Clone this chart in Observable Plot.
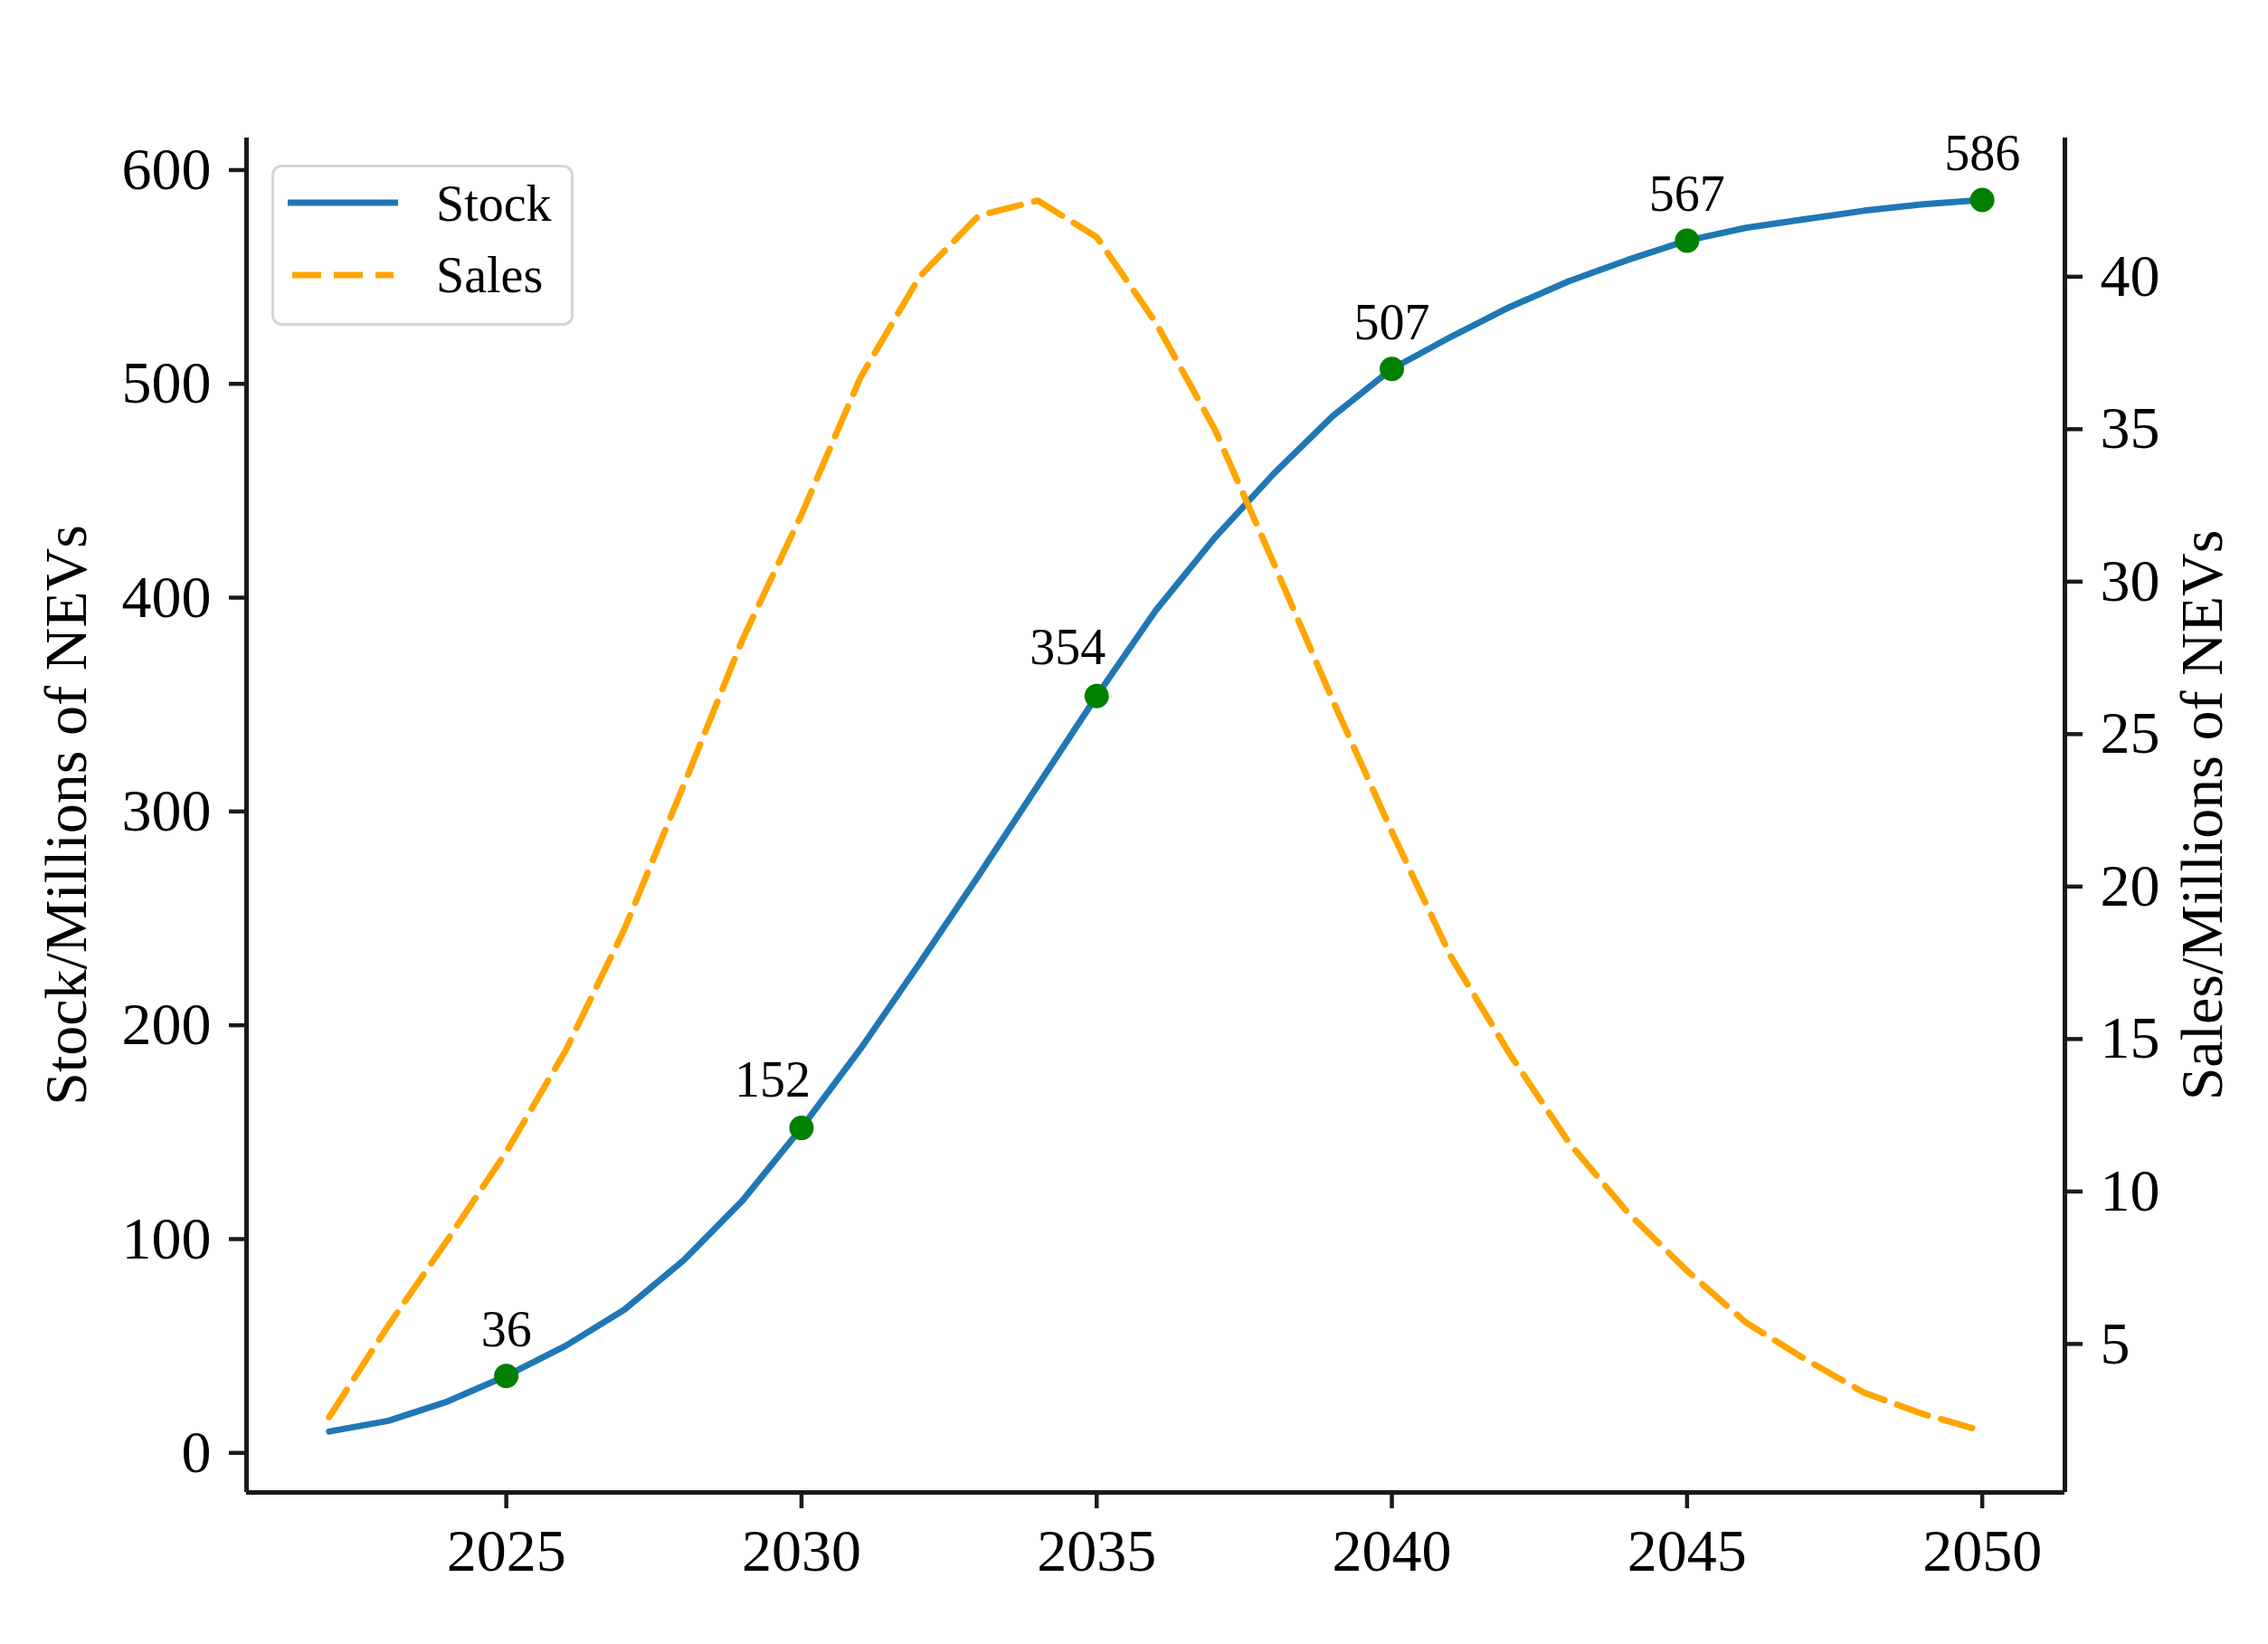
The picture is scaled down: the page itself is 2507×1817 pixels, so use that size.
<!DOCTYPE html>
<html>
<head>
<meta charset="utf-8">
<script src="https://cdn.jsdelivr.net/npm/d3@7"></script>
<script src="https://cdn.jsdelivr.net/npm/@observablehq/plot@0.6"></script>
<style>
  html, body { margin: 0; padding: 0; background: #fff; }
  #wrap { position: relative; width: 2507px; height: 1817px; }
  #legend { position: absolute; left: 300px; top: 182px; }
</style>
</head>
<body>
<div id="wrap"></div>
<script>
// ---- data ----
const years = [2022, 2023, 2024, 2025, 2026, 2027, 2028, 2029, 2030, 2031, 2032, 2033, 2034, 2035, 2036,
               2037, 2038, 2039, 2040, 2041, 2042, 2043, 2044, 2045, 2046, 2047, 2048, 2049, 2050];
const stock = [10, 15, 24, 36, 50, 67, 90, 118, 152, 189, 229, 270, 312, 354, 394,
               428, 458, 485, 507, 522, 536, 548, 558, 567, 573, 577, 581, 584, 586];
const sales = [2.6, 5.6, 8.4, 11.3, 14.6, 18.6, 23.3, 28.1, 32.2, 36.7, 40.0, 42.0, 42.5, 41.3, 38.5,
               35.0, 30.6, 26.1, 21.8, 17.7, 14.5, 11.6, 9.3, 7.4, 5.7, 4.5, 3.4, 2.7, 2.15];
const labelYears = [2025, 2030, 2035, 2040, 2045, 2050];
const leftShiftedLabelYears = [2030, 2035];   // labels nudged left of their point
const yearTicks = [2025, 2030, 2035, 2040, 2045, 2050];
const stockTicks = [0, 100, 200, 300, 400, 500, 600];
const salesTicks = [5, 10, 15, 20, 25, 30, 35, 40];
const seriesNames = ["Stock", "Sales"];
const leftLabel = "Stock/Millions of NEVs";
const rightLabel = "Sales/Millions of NEVs";

// axis limits (matplotlib-style 5% margins)
const xDomain = [2020.6, 2051.4];
const stockDomain = [-18.5, 615];
const salesDomain = [0.13, 44.55];

const BLUE = "#1f77b4", ORANGE = "orange", GREEN = "green", INK = "#1a1a1a";
const FONT = "'Liberation Serif', 'Times New Roman', serif";

// map the secondary (sales) axis into the primary y scale
const salesToY = d3.scaleLinear().domain(salesDomain).range(stockDomain);

const rows = years.map((year, i) => ({year, stock: stock[i], sales: sales[i], salesY: salesToY(sales[i])}));
const labelled = rows.filter(r => labelYears.includes(r.year));
const labelledCentered = labelled.filter(r => !leftShiftedLabelYears.includes(r.year));
const labelledShifted = labelled.filter(r => leftShiftedLabelYears.includes(r.year));

const chart = Plot.plot({
  width: 2507,
  height: 1817,
  marginLeft: 272,
  marginRight: 225,
  marginTop: 152,
  marginBottom: 168,
  style: {fontFamily: FONT, fontSize: "66px", color: "#000", background: "#fff", overflow: "visible"},
  x: {domain: xDomain},
  y: {domain: stockDomain},
  marks: [
    // axes
    Plot.axisX(yearTicks, {tickSize: 18, tickPadding: 22, strokeWidth: 4.5, stroke: INK, fontSize: 66,
                           tickFormat: d => String(d), label: null}),
    Plot.axisY(stockTicks, {anchor: "left", tickSize: 19, tickPadding: 20, strokeWidth: 4.5, stroke: INK,
                            fontSize: 66, tickFormat: d => String(d), label: null}),
    Plot.axisY(salesTicks.map(v => salesToY(v)), {anchor: "right", tickSize: 19, tickPadding: 20, strokeWidth: 4.5,
                            stroke: INK, fontSize: 66, tickFormat: d => String(Math.round(salesToY.invert(d))), label: null}),
    // spines
    Plot.ruleX([xDomain[0], xDomain[1]], {stroke: INK, strokeWidth: 5}),
    Plot.ruleY([stockDomain[0]], {stroke: INK, strokeWidth: 5}),
    // axis titles
    Plot.text([leftLabel], {frameAnchor: "left", rotate: -90, dx: -199, textAnchor: "middle", lineAnchor: "middle",
                            fontSize: 66, fill: "#000"}),
    Plot.text([rightLabel], {frameAnchor: "right", rotate: -90, dx: 152, textAnchor: "middle", lineAnchor: "middle",
                             fontSize: 66, fill: "#000"}),
    // stock series
    Plot.line(rows, {x: "year", y: "stock", stroke: BLUE, strokeWidth: 7}),
    Plot.dot(labelled, {x: "year", y: "stock", r: 13.5, fill: GREEN}),
    Plot.text(labelledCentered, {x: "year", y: "stock", text: d => String(d.stock), dy: -33, lineAnchor: "bottom",
                                 fontSize: 56, fill: "#000"}),
    Plot.text(labelledShifted, {x: "year", y: "stock", text: d => String(d.stock), dx: -32, dy: -35, lineAnchor: "bottom",
                                fontSize: 56, fill: "#000"}),
    // sales series (secondary axis)
    Plot.line(rows, {x: "year", y: "salesY", stroke: ORANGE, strokeWidth: 7, strokeDasharray: "36,15"})
  ]
});

const wrap = document.getElementById("wrap");
wrap.appendChild(chart);

// legend (inside the axes, upper left)
const legend = document.createElement("div");
legend.id = "legend";
legend.innerHTML = `
<svg width="334" height="178" xmlns="http://www.w3.org/2000/svg" style="font-family:${FONT}">
  <rect x="1.5" y="1.5" width="331" height="175" rx="10" ry="10" fill="#fff" fill-opacity="0.8" stroke="#d6d6d6" stroke-width="3"/>
  <line x1="18" x2="140" y1="42" y2="42" stroke="${BLUE}" stroke-width="7"/>
  <line x1="23" x2="135" y1="122" y2="122" stroke="${ORANGE}" stroke-width="7" stroke-dasharray="32,14"/>
  <text x="182" y="62" font-size="56" fill="#000">${seriesNames[0]}</text>
  <text x="182" y="141" font-size="56" fill="#000">${seriesNames[1]}</text>
</svg>`;
wrap.appendChild(legend);
</script>
</body>
</html>
